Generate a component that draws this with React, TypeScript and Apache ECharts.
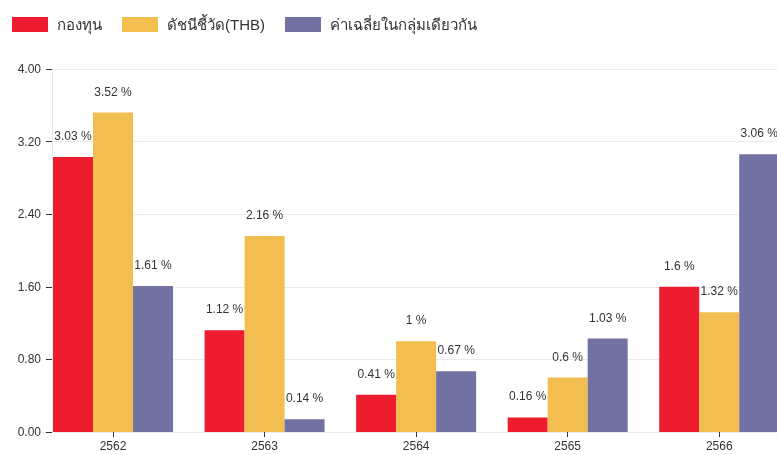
import React, { useEffect, useRef } from "react";
import * as echarts from "echarts";

const categories = ["2562", "2563", "2564", "2565", "2566"];
const fundValues = [3.03, 1.12, 0.41, 0.16, 1.6];
const indexValues = [3.52, 2.16, 1.0, 0.6, 1.32];
const peerValues = [1.61, 0.14, 0.67, 1.03, 3.06];
const seriesNames = ["กองทุน", "ดัชนีชี้วัด(THB)", "ค่าเฉลี่ยในกลุ่มเดียวกัน"];
const colors = ["#ED1C2E", "#F2BE50", "#7272A2"];

const FONT = "'Liberation Sans', Arial, 'Noto Sans', sans-serif";

export default function App() {
  const ref = useRef<HTMLDivElement>(null);
  useEffect(() => {
    if (!ref.current) return;
    const chart = echarts.init(ref.current, null, { renderer: "svg" });
    const mkSeries = (name: string, data: number[], color: string) => ({
      name,
      type: "bar",
      xAxisIndex: 0,
      yAxisIndex: 0,
      data,
      barWidth: 40,
      barGap: "0%",
      itemStyle: { color },
      label: {
        show: true,
        position: "top",
        distance: 15,
        formatter: (p: any) => `${p.value} %`,
        color: "#333",
        fontSize: 12,
        fontFamily: FONT,
      },
    });
    chart.setOption({
      animation: false,
      textStyle: { fontFamily: FONT },
      color: colors,
      legend: {
        left: 7,
        top: 12,
        itemWidth: 36,
        itemHeight: 15,
        itemGap: 20,
        itemStyle: { borderWidth: 0 },
        icon: "rect",
        textStyle: {
          fontSize: 15,
          color: "#333",
          fontFamily: FONT,
          padding: [0, 0, 0, 4],
        },
        data: seriesNames,
      },
      grid: [
        { left: 37.25, right: 0, top: 69, bottom: 23 },
        { left: 52, right: 18, top: 69, bottom: 23 },
      ],
      xAxis: [
        {
          type: "category",
          gridIndex: 0,
          data: categories,
          axisLine: { show: true, lineStyle: { color: "#ebebeb" } },
          axisTick: {
            show: true,
            alignWithLabel: true,
            length: 5,
            lineStyle: { color: "#333" },
          },
          axisLabel: { color: "#333", fontSize: 12, margin: 8 },
        },
        {
          type: "value",
          gridIndex: 1,
          show: false,
          min: 0,
          max: 1,
        },
      ],
      yAxis: [
        {
          type: "value",
          gridIndex: 0,
          min: 0,
          max: 4,
          interval: 0.8,
          show: false,
          splitLine: { show: false },
        },
        {
          type: "value",
          gridIndex: 1,
          min: 0,
          max: 4,
          interval: 0.8,
          axisLine: { show: true, lineStyle: { color: "#e8e8e8" } },
          axisTick: { show: true, inside: false, length: 6, lineStyle: { color: "#333" } },
          axisLabel: {
            color: "#333",
            fontSize: 12,
            margin: 11,
            formatter: (v: number) => v.toFixed(2),
          },
          splitLine: { show: true, lineStyle: { color: "#ebebeb" } },
        },
      ],
      series: [
        mkSeries(seriesNames[0], fundValues, colors[0]),
        mkSeries(seriesNames[1], indexValues, colors[1]),
        mkSeries(seriesNames[2], peerValues, colors[2]),
      ],
    });
    return () => chart.dispose();
  }, []);
  return (
    <div
      ref={ref}
      style={{ position: "fixed", left: 0, top: 0, width: 795, height: 455 }}
    />
  );
}
